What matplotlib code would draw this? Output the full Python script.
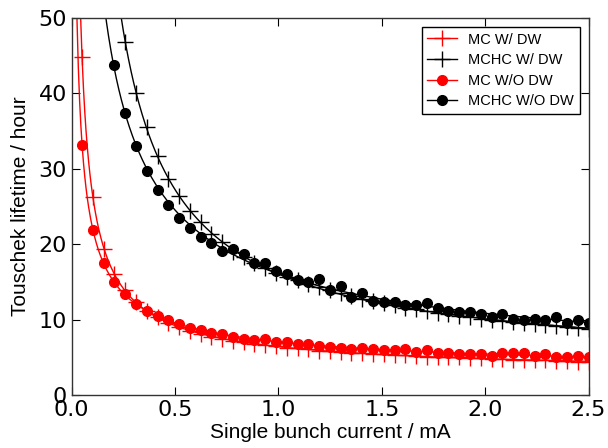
import numpy as np
import matplotlib
matplotlib.use("Agg")
import matplotlib.pyplot as plt
from matplotlib.lines import Line2D

# single bunch current grid (mA)
current = [0.050, 0.102, 0.154, 0.206, 0.259, 0.311, 0.363, 0.415, 0.467, 0.519,
           0.571, 0.623, 0.676, 0.728, 0.780, 0.832, 0.884, 0.936, 0.988, 1.040,
           1.093, 1.145, 1.197, 1.249, 1.301, 1.353, 1.405, 1.457, 1.510, 1.562,
           1.614, 1.666, 1.718, 1.770, 1.822, 1.874, 1.927, 1.979, 2.031, 2.083,
           2.135, 2.187, 2.239, 2.291, 2.344, 2.396, 2.448, 2.500]

# Touschek lifetime (hour)
mc_w_dw = [44.8, 26.2, 19.4, 16.0, 14.0, 12.4, 11.2, 10.3, 9.6, 9.0,
           8.5, 8.1, 7.7, 7.5, 7.2, 7.0, 6.8, 6.6, 6.5, 6.3,
           6.2, 6.1, 5.9, 5.8, 5.7, 5.6, 5.6, 5.5, 5.4, 5.3,
           5.3, 5.2, 5.1, 5.1, 5.0, 5.0, 4.9, 4.9, 4.8, 4.8,
           4.7, 4.7, 4.6, 4.6, 4.5, 4.5, 4.4, 4.4]
mc_wo_dw = [33.2, 21.9, 17.5, 15.0, 13.4, 12.1, 11.1, 10.5, 9.9, 9.4,
            8.9, 8.6, 8.2, 8.05, 7.75, 7.5, 7.35, 7.4, 7.05, 7.1,
            6.75, 6.75, 6.5, 6.35, 6.2, 6.15, 6.3, 6.05, 6.0, 6.0,
            6.15, 5.7, 6.0, 5.6, 5.55, 5.4, 5.45, 5.4, 5.15, 5.6,
            5.55, 5.55, 5.25, 5.4, 5.1, 5.1, 5.15, 5.1]
# MCHC series: the first points are above the 50 h limit
mchc_w_dw = [46.8, 40.1, 35.5, 31.7, 28.6, 26.4, 24.4, 22.9, 21.4, 20.3,
             19.0, 18.3, 17.5, 16.9, 16.2, 15.7, 15.2, 14.7, 14.3, 13.9,
             13.5, 13.1, 12.8, 12.5, 12.2, 11.9, 11.6, 11.4, 11.1, 10.9,
             10.7, 10.5, 10.3, 10.1, 10.0, 9.8, 9.7, 9.5, 9.4, 9.3,
             9.2, 9.0, 8.9, 8.8]
mchc_wo_dw = [43.7, 37.4, 33.0, 29.7, 27.2, 25.2, 23.5, 22.1, 21.0, 20.2,
              19.1, 19.4, 18.7, 17.5, 17.5, 16.4, 16.1, 15.3, 14.95, 15.4,
              14.0, 14.5, 13.0, 13.6, 12.5, 12.4, 12.4, 11.9, 12.0, 12.2,
              11.6, 11.2, 11.0, 11.0, 10.7, 10.4, 10.8, 10.1, 10.0, 10.1,
              10.0, 10.4, 9.6, 10.0, 9.6]


def fit_curve(x, y):
    # fit y = a * x**(-b) + c, scanning b and solving a, c by least squares
    best = None
    for b in np.linspace(0.2, 2.5, 231):
        A = np.column_stack([x ** (-b), np.ones_like(x)])
        sol, res, _, _ = np.linalg.lstsq(A, y, rcond=None)
        err = np.sum((A @ sol - y) ** 2)
        if best is None or err < best[0]:
            best = (err, b, sol)
    _, b, (a, c) = best
    xs = np.linspace(0.01, 2.5, 800)
    return xs, a * xs ** (-b) + c


x = np.array(current)
series = [
    ("MC W/ DW", x, np.array(mc_w_dw), "red", "+"),
    ("MCHC W/ DW", x[48 - len(mchc_w_dw):], np.array(mchc_w_dw), "black", "+"),
    ("MC W/O DW", x, np.array(mc_wo_dw), "red", "o"),
    ("MCHC W/O DW", x[48 - len(mchc_wo_dw):], np.array(mchc_wo_dw), "black", "o"),
]

fig = plt.figure(figsize=(6.08, 4.48), dpi=100)
ax = fig.add_axes([0.118, 0.118, 0.85, 0.842])

handles = []
for label, xs, ys, color, marker in series:
    fx, fy = fit_curve(xs, ys)
    ax.plot(fx, fy, color=color, lw=1.0)
    ms = 11 if marker == "+" else 7
    ax.plot(xs, ys, linestyle="none", marker=marker, color=color,
            markersize=ms, markeredgewidth=1.0)
    handles.append(Line2D([0], [0], color=color, lw=1.0, marker=marker,
                          markersize=ms, markeredgewidth=1.0, label=label))

ax.set_xlim(0, 2.5)
ax.set_ylim(0, 50)
ax.set_xticks([0.0, 0.5, 1.0, 1.5, 2.0, 2.5])
ax.set_yticks([0, 10, 20, 30, 40, 50])
ax.set_xticklabels(["0.0", "0.5", "1.0", "1.5", "2.0", "2.5"])
ax.tick_params(direction="in", length=6, top=True, right=True, labelsize=16)
for sp in ax.spines.values():
    sp.set_linewidth(1.0)
    sp.set_color("#333333")

ax.set_xlabel("Single bunch current / mA", fontsize=15,
              family="Liberation Sans", labelpad=2)
ax.set_ylabel("Touschek lifetime / hour", fontsize=15,
              family="Liberation Sans", labelpad=6)

leg = ax.legend(handles=handles, loc="upper right", fancybox=False,
                edgecolor="black", framealpha=1, handlelength=2.0,
                prop={"family": "Liberation Sans", "size": 10.5},
                borderaxespad=0.6, labelspacing=0.45)
leg.get_frame().set_linewidth(1.0)

fig.savefig("out.png", dpi=100)
